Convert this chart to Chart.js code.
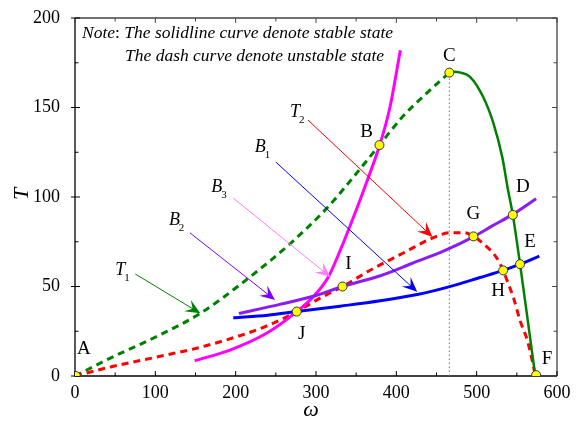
<!DOCTYPE html>
<html>
<head>
<meta charset="utf-8">
<script src="https://cdn.jsdelivr.net/npm/chart.js@4"></script>
<style>body{margin:0;background:#fff}</style>
</head>
<body>
<canvas id="stateChart" width="583" height="421"></canvas>
<script>
// curve values (omega, T)
const t1UnstableX = [0, 44, 106, 156, 214, 268, 314, 339, 379, 408, 433, 466];
const t1UnstableY = [0, 10, 23, 35, 54, 74, 94, 107, 129, 145, 156, 169.5];
const t1StableX = [466, 471, 480, 492, 508, 521, 532, 539, 545, 554, 563, 573];
const t1StableY = [169.5, 170, 169.5, 167, 156, 141, 122, 104, 90, 62.5, 33, 0];
const t2X = [0, 44, 106, 164, 239, 276, 305, 333, 371, 410, 442, 467, 485, 496, 508, 525, 533, 539, 546, 554, 563, 569, 573];
const t2Y = [0, 5, 11, 17, 28, 36, 43.5, 50, 60, 69, 76.5, 80, 80, 78, 74, 66, 59, 52, 43.5, 31, 20, 9, 0];
const b3X = [149, 193, 239, 276, 296, 315, 330, 346, 362, 380, 392, 405];
const b3Y = [8.5, 14.5, 24, 36, 44, 55, 70, 88, 107, 130, 150, 182];
const b2X = [204, 255, 300, 333, 380, 420, 460, 497, 520, 544, 574];
const b2Y = [35, 40, 45, 50, 56, 63, 70, 78, 84, 90, 99];
const b1X = [197, 240, 276, 330, 380, 426, 463, 504, 533, 554, 578];
const b1Y = [32.5, 34, 36, 39, 42, 45.5, 49.5, 55, 59, 62.5, 67];

// marked states
const pointNames = ['A', 'B', 'C', 'D', 'E', 'F', 'G', 'H', 'I', 'J'];
const pointX = [1, 379, 466, 545, 554, 574, 496, 533, 333, 276];
const pointY = [0, 129, 169.5, 90, 62.5, 0.5, 78, 59, 50, 36];

// arrows pointing at the curves
const arrowNames = ['T', 'B', 'B', 'B', 'T'];
const arrowSubs = ['1', '2', '3', '1', '2'];
const arrowFromX = [75, 143, 197, 250, 290];
const arrowFromY = [57, 80, 99.4, 119.5, 143];
const arrowToX = [156, 249, 318, 426, 445];
const arrowToY = [35, 42.5, 55.3, 47, 77.7];

const xTicks = [0, 100, 200, 300, 400, 500, 600];
const yTicks = [0, 50, 100, 150, 200];

function pts(xs, ys) {
    return xs.map((x, i) => ({ x: x, y: ys[i] }));
}

// where the letters sit next to the markers (pixels)
const labelOffsets = {
    A: [8, -27], B: [-13, -13], C: [0, -17], D: [10, -28], E: [10, -22],
    F: [11, -16], G: [0, -22], H: [-5, 21], I: [6, -22], J: [5, 22]
};
const arrowColors = ['#008000', '#8000ff', '#ff80ff', '#0000ff', '#ff0000'];
const arrowLabelShift = [[-20, -4], [-21, -13], [-22, -11], [-21, -15], [-18, -8]];

const serif = '"Liberation Serif", "Times New Roman", serif';

const decorations = {
    id: 'decorations',
    beforeDatasetsDraw(chart) {
        const ctx = chart.ctx;
        const a = chart.chartArea;
        const xs = chart.scales.x, ys = chart.scales.y;
        ctx.save();
        ctx.lineWidth = 1.3;
        ctx.strokeStyle = '#444';
        ctx.beginPath();
        ctx.moveTo(a.left, a.top); ctx.lineTo(a.right, a.top); ctx.lineTo(a.right, a.bottom);
        ctx.stroke();
        ctx.strokeStyle = '#000';
        ctx.beginPath();
        ctx.moveTo(a.left, a.top); ctx.lineTo(a.left, a.bottom); ctx.lineTo(a.right, a.bottom);
        ctx.stroke();
        // inward ticks
        ctx.lineWidth = 1;
        for (let v = 0; v <= 600; v += 50) {
            const px = xs.getPixelForValue(v);
            const len = v % 100 === 0 ? 5 : 3.5;
            ctx.strokeStyle = '#000';
            ctx.beginPath(); ctx.moveTo(px, a.bottom); ctx.lineTo(px, a.bottom - len); ctx.stroke();
            ctx.strokeStyle = '#444';
            ctx.beginPath(); ctx.moveTo(px, a.top); ctx.lineTo(px, a.top + len); ctx.stroke();
        }
        for (let v = 0; v <= 200; v += 25) {
            const py = ys.getPixelForValue(v);
            const len = v % 50 === 0 ? 5 : 3.5;
            ctx.strokeStyle = '#000';
            ctx.beginPath(); ctx.moveTo(a.left - (v % 50 === 0 ? 4 : 0), py); ctx.lineTo(a.left + len, py); ctx.stroke();
            ctx.strokeStyle = '#444';
            ctx.beginPath(); ctx.moveTo(a.right, py); ctx.lineTo(a.right - len, py); ctx.stroke();
        }
        ctx.restore();
    },
    afterDatasetsDraw(chart) {
        const ctx = chart.ctx;
        const xs = chart.scales.x, ys = chart.scales.y;
        ctx.save();
        // arrows
        arrowNames.forEach((name, i) => {
            const x0 = xs.getPixelForValue(arrowFromX[i]), y0 = ys.getPixelForValue(arrowFromY[i]);
            const x1 = xs.getPixelForValue(arrowToX[i]), y1 = ys.getPixelForValue(arrowToY[i]);
            const ang = Math.atan2(y1 - y0, x1 - x0);
            ctx.strokeStyle = arrowColors[i];
            ctx.fillStyle = arrowColors[i];
            ctx.lineWidth = 1;
            ctx.beginPath(); ctx.moveTo(x0, y0); ctx.lineTo(x1 - 8 * Math.cos(ang), y1 - 8 * Math.sin(ang)); ctx.stroke();
            ctx.save();
            ctx.translate(x1, y1);
            ctx.rotate(ang);
            ctx.beginPath();
            ctx.moveTo(0, 0);
            ctx.lineTo(-15, -6.5);
            ctx.lineTo(-9, 0);
            ctx.lineTo(-15, 6.5);
            ctx.closePath();
            ctx.fill();
            ctx.restore();
            // label with subscript
            const lx = x0 + arrowLabelShift[i][0], ly = y0 + arrowLabelShift[i][1];
            ctx.fillStyle = '#000';
            ctx.textAlign = 'left';
            ctx.textBaseline = 'middle';
            ctx.font = 'italic 18px ' + serif;
            ctx.fillText(name, lx, ly);
            const w = ctx.measureText(name).width;
            ctx.font = '11px ' + serif;
            ctx.fillText(arrowSubs[i], lx + w - 1, ly + 8);
        });
        ctx.restore();
    },
    afterDraw(chart) {
        const ctx = chart.ctx;
        const xs = chart.scales.x, ys = chart.scales.y;
        ctx.save();
        ctx.fillStyle = '#000';
        ctx.textAlign = 'center';
        ctx.textBaseline = 'middle';
        ctx.font = '19px ' + serif;
        pointNames.forEach((n, i) => {
            const off = labelOffsets[n];
            ctx.fillText(n, xs.getPixelForValue(pointX[i]) + off[0], ys.getPixelForValue(pointY[i]) + off[1]);
        });
        // axis titles
        ctx.font = 'italic 22px ' + serif;
        ctx.fillText('\u03c9', 311, 410);
        ctx.save();
        ctx.translate(22, 194);
        ctx.rotate(-Math.PI / 2);
        ctx.fillText('T', 0, 0);
        ctx.restore();
        // note
        ctx.textAlign = 'left';
        ctx.font = 'italic 17.5px ' + serif;
        let x = 82;
        ctx.fillText('Note', x, 33);
        x += ctx.measureText('Note').width;
        ctx.font = '17.5px ' + serif;
        ctx.fillText(':', x, 33);
        x += ctx.measureText(': ').width;
        ctx.font = 'italic 17.5px ' + serif;
        ctx.fillText('The solidline curve denote stable state', x, 33);
        ctx.fillText('The dash curve denote unstable state', 125, 56);
        ctx.restore();
    }
};

const lineBase = {
    showLine: true,
    pointRadius: 0,
    fill: false,
    borderWidth: 3,
    cubicInterpolationMode: 'monotone'
};

const ctx = document.getElementById('stateChart').getContext('2d');
const chart = new Chart(ctx, {
    type: 'scatter',
    data: {
        datasets: [
            {
                label: 'states',
                data: pts(pointX, pointY),
                pointRadius: 4.5,
                pointBackgroundColor: '#ffff00',
                pointBorderColor: '#333',
                pointBorderWidth: 1,
                showLine: false
            },
            Object.assign({ label: 'B1', data: pts(b1X, b1Y), borderColor: '#0000ff' }, lineBase),
            Object.assign({ label: 'B2', data: pts(b2X, b2Y), borderColor: '#8a1cf5' }, lineBase),
            Object.assign({ label: 'T1 stable', data: pts(t1StableX, t1StableY), borderColor: '#008000' }, lineBase, { borderWidth: 2.5 }),
            Object.assign({ label: 'B3', data: pts(b3X, b3Y), borderColor: '#ff00ff' }, lineBase),
            Object.assign({ label: 'T2', data: pts(t2X, t2Y), borderColor: '#ff0000', borderDash: [7, 5] }, lineBase),
            Object.assign({ label: 'T1 unstable', data: pts(t1UnstableX, t1UnstableY), borderColor: '#008000', borderDash: [7, 5] }, lineBase),
            {
                label: 'C line',
                data: pts([pointX[2], pointX[2]], [0, pointY[2]]),
                showLine: true,
                pointRadius: 0,
                borderColor: '#777',
                borderWidth: 1,
                borderDash: [1.5, 2.5]
            }
        ]
    },
    options: {
        responsive: false,
        animation: false,
        devicePixelRatio: 1,
        layout: { padding: { left: 0, top: 18, right: 26, bottom: 0 } },
        plugins: { legend: { display: false }, tooltip: { enabled: false } },
        scales: {
            x: {
                type: 'linear',
                min: 0,
                max: 600,
                afterFit: s => { s.height = 45; },
                afterBuildTicks: s => { s.ticks = xTicks.map(v => ({ value: v })); },
                grid: { display: false },
                border: { display: false },
                ticks: { color: '#000', padding: -2, font: { family: serif, size: 18 } }
            },
            y: {
                type: 'linear',
                min: 0,
                max: 200,
                afterFit: s => { s.width = 75; },
                afterBuildTicks: s => { s.ticks = yTicks.map(v => ({ value: v })); },
                grid: { display: false },
                border: { display: false },
                ticks: { color: '#000', padding: 7, font: { family: serif, size: 18 } }
            }
        }
    },
    plugins: [decorations]
});
</script>
</body>
</html>
